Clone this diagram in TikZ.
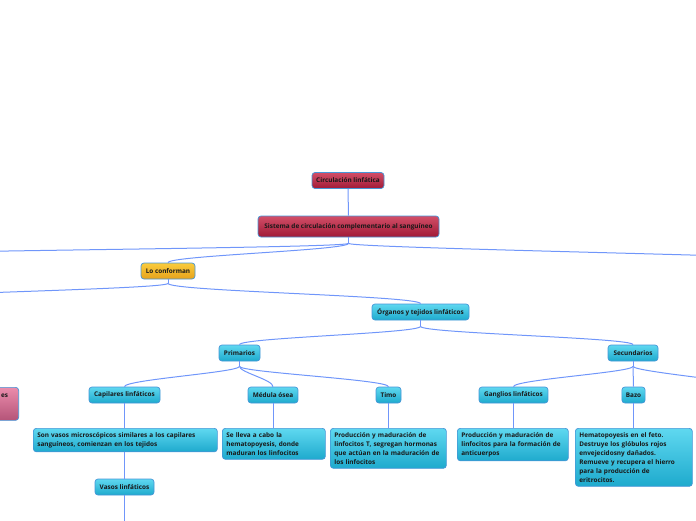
\documentclass[tikz,border=0pt]{standalone}
\usepackage{fontspec}
\setmainfont{Open Sans}
\definecolor{bordc}{RGB}{70,150,215}
\definecolor{cytop}{RGB}{95,216,240}
\definecolor{cybot}{RGB}{30,170,205}
\definecolor{rdtop}{RGB}{210,78,104}
\definecolor{rdbot}{RGB}{160,26,54}
\definecolor{gdtop}{RGB}{250,204,60}
\definecolor{gdbot}{RGB}{230,162,28}
\definecolor{pktop}{RGB}{235,140,172}
\definecolor{pkbot}{RGB}{180,84,120}
\definecolor{lnc}{RGB}{112,150,250}
\begin{document}
\begin{tikzpicture}[x=1pt,y=-1pt,
  base/.style={draw=bordc, line width=0.7pt, rounded corners=3pt,
    font=\fontsize{6.4}{9}\selectfont\bfseries, text=black!90,
    inner xsep=4pt, inner ysep=3pt},
  cy/.style={base, top color=cytop, bottom color=cybot},
  rd/.style={base, top color=rdtop, bottom color=rdbot},
  gd/.style={base, top color=gdtop, bottom color=gdbot},
  pk/.style={base, top color=pktop, bottom color=pkbot},
  lbl/.style={minimum height=16pt},
  txt/.style={align=left, anchor=north west, inner ysep=4pt},
  ln/.style={draw=lnc, line width=1pt}]
\useasboundingbox (0,0) rectangle (696,520);

% nodes
\node[rd, lbl, minimum width=72pt] (circ) at (348,180.5) {Circulación linfática};
\node[rd, lbl, minimum width=181pt, minimum height=21pt] (sist) at (348.5,226.5) {Sistema de circulación complementario al sanguíneo};
\node[gd, lbl, minimum width=54pt] (lc) at (168,271) {Lo conforman};
\node[cy, lbl, minimum width=97pt] (org) at (420.5,312) {Órganos y tejidos linfáticos};
\node[cy, lbl, minimum width=41pt] (prim) at (239.5,353) {Primarios};
\node[cy, lbl, minimum width=50pt] (sec) at (633,353) {Secundarios};
\node[cy, lbl, minimum width=71pt] (cap) at (124.5,395) {Capilares linfáticos};
\node[cy, lbl, minimum width=50pt] (med) at (273,395) {Médula ósea};
\node[cy, lbl, minimum width=25pt] (timo) at (388.5,395) {Timo};
\node[cy, lbl, minimum width=69pt] (gang) at (513.5,395) {Ganglios linfáticos};
\node[cy, lbl, minimum width=23pt] (bazo) at (633.5,395) {Bazo};
\node[pk, anchor=north east, minimum width=80pt, minimum height=33pt] (pink) at (19,387) {};
\node[font=\fontsize{6.4}{9}\selectfont\bfseries, text=black!90, inner sep=0pt,
  anchor=base west] (pinktxt) at (1,397) {es};

\node[cy, txt, text width=176pt] (sv) at (33,428)
  {Son vasos microscópicos similares a los capilares\\sanguíneos, comienzan en los tejidos};
\node[cy, txt, text width=95pt] (sl) at (222,428)
  {Se lleva a cabo la\\hematopoyesis, donde\\maduran los linfocitos};
\node[cy, txt, text width=108pt] (pt) at (330,428)
  {Producción y maduración de\\linfocitos T, segregan hormonas\\que actúan en la maduración de\\los linfocitos};
\node[cy, txt, text width=103pt] (pa) at (457,428)
  {Producción y maduración de\\linfocitos para la formación de\\anticuerpos};
\node[cy, txt, text width=109pt] (he) at (575,428)
  {Hematopoyesis en el feto.\\Destruye los glóbulos rojos\\envejecidosny dañados.\\Remueve y recupera el hierro\\para la producción de\\eritrocitos.};
\node[cy, lbl, minimum width=59pt] (vl) at (124.5,487) {Vasos linfáticos};

% off-picture ends
\coordinate (offL1) at (-160,256);
\coordinate (offR1) at (860,262);
\coordinate (offL2) at (-130,300);
\coordinate (offR2) at (790,392);
\coordinate (offB) at (124.5,540);

% connectors
\draw[ln] (circ.south) -- (sist.north);
\draw[ln] (sist.south) -- ++(0,6) coordinate (s1);
\draw[ln] (s1) .. controls +(0,5) and +(0,-5) .. (offL1);
\draw[ln] (s1) .. controls +(0,5) and +(0,-5) .. (offR1);
\draw[ln] (s1) .. controls +(0,7) and +(0,-7) .. (lc.north);

\draw[ln] (lc.south) -- ++(0,4) coordinate (l1);
\draw[ln] (l1) .. controls +(0,6) and +(0,-6) .. (offL2);
\draw[ln] (l1) .. controls +(0,8) and +(0,-8) .. (org.north);

\draw[ln] (org.south) -- ++(0,6) coordinate (o1);
\draw[ln] (o1) .. controls +(0,7) and +(0,-7) .. (prim.north);
\draw[ln] (o1) .. controls +(0,7) and +(0,-7) .. (sec.north);

\draw[ln] (prim.south) -- ++(0,5) coordinate (p1);
\draw[ln] (p1) .. controls +(0,6) and +(0,-7) .. (cap.north);
\draw[ln] (p1) .. controls +(0,6) and +(0,-7) .. (med.north);
\draw[ln] (p1) .. controls +(0,6) and +(0,-7) .. (timo.north);

\draw[ln] (sec.south) -- ++(0,5) coordinate (q1);
\draw[ln] (q1) .. controls +(0,6) and +(0,-7) .. (gang.north);
\draw[ln] (q1) -- (bazo.north);
\draw[ln] (q1) .. controls +(0,6) and +(0,-6) .. (offR2);

\draw[ln] (cap.south) -- (cap.south |- sv.north);
\draw[ln] (med.south) -- (med.south |- sl.north);
\draw[ln] (timo.south) -- (timo.south |- pt.north);
\draw[ln] (gang.south) -- (gang.south |- pa.north);
\draw[ln] (bazo.south) -- (bazo.south |- he.north);
\draw[ln] (vl.north |- sv.south) -- (vl.north);
\draw[ln] (vl.south) -- (offB);
\end{tikzpicture}
\end{document}
